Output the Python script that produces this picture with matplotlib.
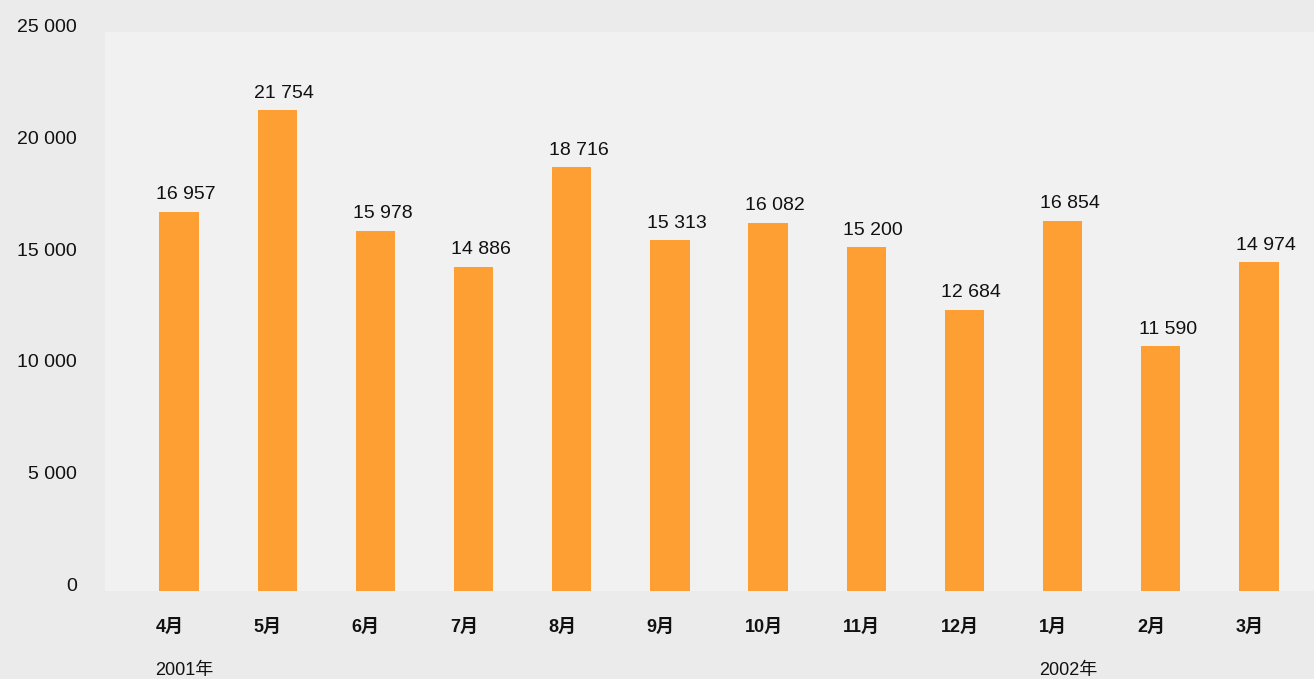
import matplotlib.pyplot as plt

plt.rcParams['font.family'] = ['Liberation Sans', 'Noto Sans CJK SC', 'DejaVu Sans']

months = ['4月', '5月', '6月', '7月', '8月', '9月', '10月', '11月', '12月', '1月', '2月', '3月']
# bar heights as drawn in the picture
bar_heights = [16950, 21490, 16110, 14510, 18950, 15680, 16470, 15370, 12580, 16550, 10950, 14710]
# printed values above the bars
value_labels = ['16 957', '21 754', '15 978', '14 886', '18 716', '15 313',
                '16 082', '15 200', '12 684', '16 854', '11 590', '14 974']
year_labels = {0: '2001年', 9: '2002年'}
yticks = [0, 5000, 10000, 15000, 20000, 25000]
ytick_labels = ['0', '5 000', '10 000', '15 000', '20 000', '25 000']

bar_color = '#fd9f32'
width = 0.4

fig = plt.figure(figsize=(13.14, 6.79), dpi=100, facecolor='#ebebeb')
ax = fig.add_axes([105 / 1314, (679 - 591) / 679, 1 - 105 / 1314, (591 - 32) / 679])
ax.set_facecolor('#f1f1f1')

x = list(range(len(months)))
ax.bar(x, bar_heights, width=width, color=bar_color, zorder=2)

for xi, h, lab in zip(x, bar_heights, value_labels):
    ax.annotate(lab, (xi, h), xytext=(5, 9), textcoords='offset points',
                ha='center', va='baseline', fontsize=14, color='#111111')

ax.set_xlim(-0.754, 11.56)
ax.set_ylim(0, 25000)

for s in ax.spines.values():
    s.set_visible(False)
ax.tick_params(length=0)

ax.set_yticks(yticks)
ax.set_yticklabels(ytick_labels, fontsize=14, color='#111111')
ax.tick_params(axis='y', pad=20)
for t in ax.get_yticklabels():
    t.set_va('baseline')

ax.set_xticks([])
trans = ax.get_xaxis_transform()
for xi, m in zip(x, months):
    ax.text(xi - width / 2 - 0.04, -0.065, m, transform=trans, ha='left', va='center',
            fontsize=13, fontweight='bold', color='#111111')
for xi, yl in year_labels.items():
    ax.text(xi - width / 2 - 0.04, -0.142, yl, transform=trans, ha='left', va='center',
            fontsize=13, color='#111111')

fig.savefig('out.png', dpi=100, facecolor=fig.get_facecolor())
